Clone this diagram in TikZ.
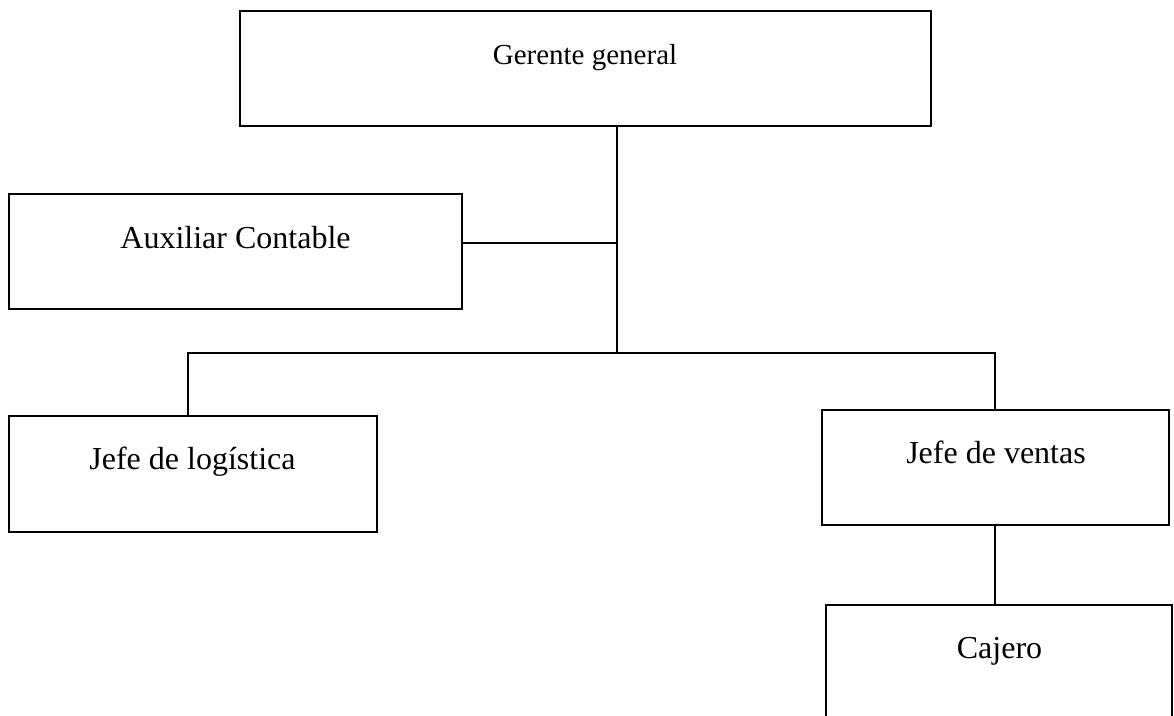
\documentclass[tikz,border=0pt]{standalone}
\usepackage{fontspec}
\setmainfont{Liberation Serif}
\begin{document}
\begin{tikzpicture}[x=1pt,y=-1pt,
  box/.style={draw=black,line width=2.6pt,rectangle,inner sep=0pt},
  big/.style={font=\fontsize{32}{38}\selectfont,anchor=base,inner sep=0pt},
  small/.style={font=\fontsize{29}{34}\selectfont,anchor=base,inner sep=0pt},
  conn/.style={draw=black,line width=2.6pt}]
\clip (0,0) rectangle (1174,715);
\fill[white] (0,0) rectangle (1174,715);
% boxes
\node[box,minimum width=691pt,minimum height=115pt] (ger) at (585.5,68.5) {};
\node[box,minimum width=453pt,minimum height=115pt] (aux) at (235.5,251.5) {};
\node[box,minimum width=368pt,minimum height=116pt] (log) at (193,474) {};
\node[box,minimum width=347pt,minimum height=115pt] (ven) at (995.5,467.5) {};
\node[box,minimum width=346pt,minimum height=160pt] (caj) at (999,685) {};
% texts
\node[small] (tger) at (585,64) {Gerente general};
\node[big] (taux) at (235.5,248) {Auxiliar Contable};
\node[big] (tlog) at (192.5,469) {Jefe de logística};
\node[big] (tven) at (996,463) {Jefe de ventas};
\node[big] (tcaj) at (999.5,658) {Cajero};
% junctions
\coordinate (j1) at (617,353);
\coordinate (ja) at (617,243);
\coordinate (jl) at (188,353);
\coordinate (jv) at (995,353);
% connectors
\draw[conn] (ger.south -| j1) -- (j1);
\draw[conn] (aux.east |- ja) -- (ja);
\draw[conn,line cap=rect] (jl) -- (jv);
\draw[conn] (jl) -- (log.north -| jl);
\draw[conn] (jv) -- (ven.north -| jv);
\draw[conn] (ven.south -| jv) -- (caj.north -| jv);
\end{tikzpicture}
\end{document}
